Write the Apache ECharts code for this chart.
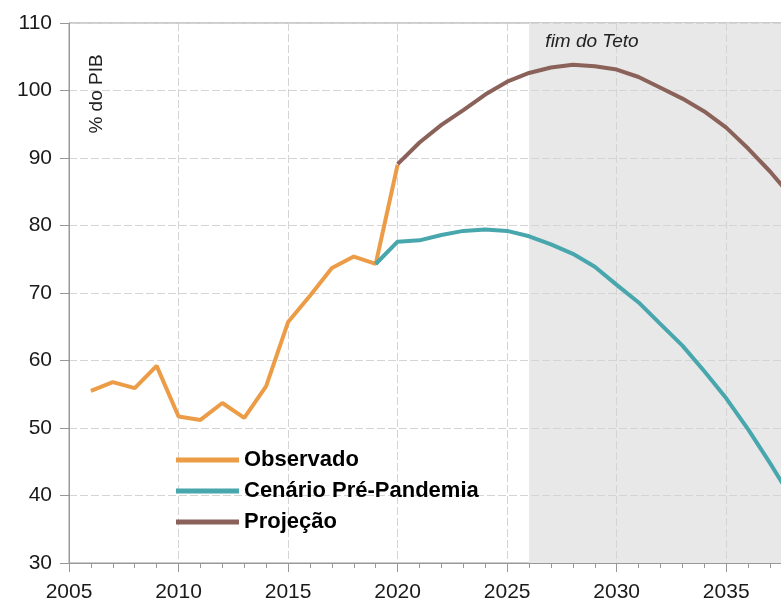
<!DOCTYPE html>
<html>
<head>
<meta charset="utf-8">
<script src="https://cdn.jsdelivr.net/npm/echarts@6/dist/echarts.min.js"></script>
<style>
html,body{margin:0;padding:0;background:#fff;}
#chart{width:781px;height:603px;}
</style>
</head>
<body>
<div id="chart"></div>
<script>
// ---- data ----
const observadoYears = [2006,2007,2008,2009,2010,2011,2012,2013,2014,2015,2016,2017,2018,2019,2020];
const observadoValues = [55.5,56.8,55.9,59.2,51.7,51.2,53.7,51.5,56.2,65.7,69.6,73.7,75.4,74.3,89.0];

const cenarioYears = [2019,2020,2021,2022,2023,2024,2025,2026,2027,2028,2029,2030,2031,2032,2033,2034,2035,2036,2037,2038];
const cenarioValues = [74.3,77.6,77.8,78.6,79.2,79.4,79.2,78.4,77.2,75.8,73.9,71.2,68.6,65.4,62.2,58.4,54.4,49.8,44.8,39.5];

const projecaoYears = [2020,2021,2022,2023,2024,2025,2026,2027,2028,2029,2030,2031,2032,2033,2034,2035,2036,2037,2038];
const projecaoValues = [89.1,92.3,94.9,97.1,99.4,101.3,102.6,103.4,103.8,103.6,103.1,102.0,100.4,98.8,96.9,94.5,91.4,88.0,84.2];

const seriesNames = ['Observado','Cenário Pré-Pandemia','Projeção'];
const shadeStartYear = 2026;
const shadeLabel = 'fim do Teto';
const yAxisTitle = '% do PIB';

function pairs(xs, ys){ return xs.map((x,i)=>[x, ys[i]]); }

const FONT = '"Liberation Sans", Arial, sans-serif';
const chart = echarts.init(document.getElementById('chart'), null, {renderer:'canvas'});

const gridLine = {show:true, lineStyle:{color:'#d4d4d4', width:1, type:[8,3]}};

chart.setOption({
  animation:false,
  backgroundColor:'#ffffff',
  grid:{left:69, right:-1, top:23, bottom:40, show:true, borderColor:'#999999', borderWidth:1, backgroundColor:'transparent'},
  xAxis:{
    type:'value', min:2005, max:2037.5, interval:5, z:1.5,
    axisLine:{show:true, onZero:false, lineStyle:{color:'#999999', width:1}},
    axisTick:{show:true, length:9, lineStyle:{color:'#999999'}},
    minorTick:{show:true, splitNumber:5, length:5, lineStyle:{color:'#999999'}},
    axisLabel:{color:'#1a1a1a', fontSize:21, fontFamily:FONT, margin:19, showMaxLabel:false,
      formatter:v=>String(v)},
    splitLine:gridLine
  },
  yAxis:{
    type:'value', min:30, max:110, interval:10, z:1.5,
    axisLine:{show:true, onZero:false, lineStyle:{color:'#999999', width:1}},
    axisTick:{show:true, length:9, lineStyle:{color:'#999999'}},
    axisLabel:{color:'#1a1a1a', fontSize:21, fontFamily:FONT, margin:17},
    splitLine:gridLine
  },
  legend:{
    orient:'vertical', left:176, top:449, padding:0, itemGap:9,
    itemWidth:63, itemHeight:5, icon:'rect',
    data:seriesNames,
    textStyle:{color:'#000', fontSize:22, fontWeight:'bold', fontFamily:FONT}
  },
  graphic:[
    {type:'text', x:97, y:94, rotation:Math.PI/2, z:100,
     style:{text:yAxisTitle, font:'19px ' + FONT, fill:'#222', textAlign:'center', textVerticalAlign:'middle'}},
    {type:'text', x:592, y:42, z:100,
     style:{text:shadeLabel, font:'italic 19px ' + FONT, fill:'#222', textAlign:'center', textVerticalAlign:'middle'}}
  ],
  series:[
    {type:'line', name:'shade', z:-1, data:[], silent:true,
     markArea:{silent:true, itemStyle:{color:'#e8e8e8'},
       data:[[{xAxis:shadeStartYear},{xAxis:'max'}]]}},
    {type:'line', name:seriesNames[0], data:pairs(observadoYears, observadoValues),
     showSymbol:false, symbol:'none', lineStyle:{color:'#ec9c46', width:4}, itemStyle:{color:'#ec9c46'}},
    {type:'line', name:seriesNames[1], data:pairs(cenarioYears, cenarioValues),
     showSymbol:false, symbol:'none', lineStyle:{color:'#48a6ad', width:4}, itemStyle:{color:'#48a6ad'}},
    {type:'line', name:seriesNames[2], data:pairs(projecaoYears, projecaoValues),
     showSymbol:false, symbol:'none', lineStyle:{color:'#8a6259', width:4}, itemStyle:{color:'#8a6259'}}
  ]
});
</script>
</body>
</html>
